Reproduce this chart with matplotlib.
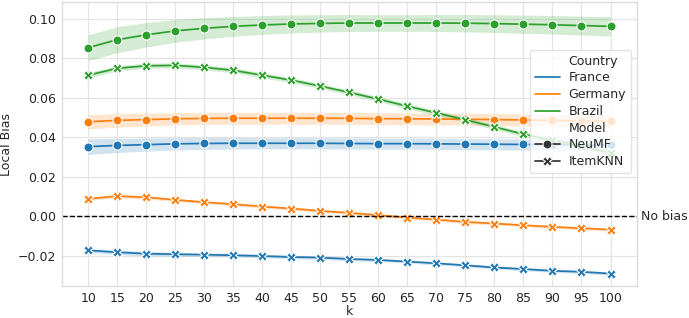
import numpy as np
import matplotlib
matplotlib.use("Agg")
import matplotlib.pyplot as plt
import seaborn as sns
from matplotlib.lines import Line2D

sns.set_theme(style="whitegrid")
plt.rcParams['font.family'] = ['DejaVu Sans']

k = [10, 15, 20, 25, 30, 35, 40, 45, 50, 55, 60, 65, 70, 75, 80, 85, 90, 95, 100]

countries = ["France", "Germany", "Brazil"]
colors = {"France": "#1f77b4", "Germany": "#ff7f0e", "Brazil": "#2ca02c"}

neumf = {
    "France": [0.0353, 0.0359, 0.0363, 0.0367, 0.0369, 0.0370, 0.0370, 0.0370, 0.0370, 0.0369,
               0.0368, 0.0368, 0.0367, 0.0366, 0.0365, 0.0364, 0.0363, 0.0362, 0.0361],
    "Germany": [0.0479, 0.0486, 0.0490, 0.0494, 0.0496, 0.0497, 0.0497, 0.0497, 0.0497, 0.0496,
                0.0495, 0.0494, 0.0493, 0.0492, 0.0490, 0.0488, 0.0486, 0.0484, 0.0481],
    "Brazil": [0.0855, 0.0895, 0.0920, 0.0940, 0.0953, 0.0963, 0.0970, 0.0975, 0.0978, 0.0980,
               0.0980, 0.0980, 0.0980, 0.0979, 0.0977, 0.0974, 0.0971, 0.0967, 0.0963],
}
neumf_err = {
    "France": [0.0040, 0.0036, 0.0033, 0.0031, 0.0030, 0.0029, 0.0028, 0.0028, 0.0028, 0.0028,
               0.0028, 0.0028, 0.0028, 0.0028, 0.0028, 0.0028, 0.0028, 0.0028, 0.0028],
    "Germany": [0.0036, 0.0034, 0.0032, 0.0031, 0.0030, 0.0030, 0.0030, 0.0030, 0.0030, 0.0030,
                0.0030, 0.0030, 0.0030, 0.0030, 0.0030, 0.0030, 0.0030, 0.0030, 0.0030],
    "Brazil": [0.0065, 0.0066, 0.0062, 0.0058, 0.0054, 0.0050, 0.0048, 0.0046, 0.0044, 0.0043,
               0.0042, 0.0042, 0.0043, 0.0044, 0.0045, 0.0046, 0.0047, 0.0048, 0.0049],
}
itemknn = {
    "France": [-0.0173, -0.0183, -0.0190, -0.0193, -0.0195, -0.0198, -0.0202, -0.0207, -0.0210, -0.0217,
               -0.0222, -0.0230, -0.0239, -0.0249, -0.0260, -0.0268, -0.0277, -0.0282, -0.0291],
    "Germany": [0.0088, 0.0102, 0.0096, 0.0083, 0.0071, 0.0061, 0.0049, 0.0039, 0.0027, 0.0017,
                0.0005, -0.0007, -0.0017, -0.0029, -0.0037, -0.0046, -0.0054, -0.0061, -0.0068],
    "Brazil": [0.0715, 0.0750, 0.0763, 0.0765, 0.0755, 0.0740, 0.0715, 0.0690, 0.0660, 0.0628,
               0.0594, 0.0558, 0.0524, 0.0489, 0.0453, 0.0416, 0.0385, 0.0355, 0.0320],
}
itemknn_err = {
    "France": [0.0010, 0.0012, 0.0011, 0.0010, 0.0009, 0.0009, 0.0009, 0.0009, 0.0009, 0.0009,
               0.0008, 0.0008, 0.0008, 0.0008, 0.0008, 0.0008, 0.0008, 0.0008, 0.0008],
    "Germany": [0.0008, 0.0009, 0.0009, 0.0008, 0.0008, 0.0008, 0.0008, 0.0008, 0.0008, 0.0008,
                0.0008, 0.0008, 0.0008, 0.0008, 0.0008, 0.0008, 0.0008, 0.0008, 0.0008],
    "Brazil": [0.0014, 0.0014, 0.0013, 0.0013, 0.0013, 0.0013, 0.0013, 0.0013, 0.0013, 0.0013,
               0.0013, 0.0013, 0.0013, 0.0013, 0.0013, 0.0013, 0.0013, 0.0013, 0.0013],
}

FS = 9
LW = 1.25
MS = 6.5

fig = plt.figure(figsize=(6.89, 3.18), dpi=100)
ax = fig.add_axes([0.09, 0.1, 0.834, 0.894])

for c in countries:
    col = colors[c]
    for vals, err, mk in [(neumf[c], neumf_err[c], "o"), (itemknn[c], itemknn_err[c], "X")]:
        v = np.array(vals)
        e = np.array(err)
        ax.fill_between(k, v - e, v + e, color=col, alpha=0.2, lw=0)
        ax.plot(k, v, color=col, lw=LW, marker=mk, ms=MS, mec="white", mew=0.8)

ax.axhline(0, color="black", ls="--", lw=1.0)
ax.text(1.007, 0, "No bias", transform=ax.get_yaxis_transform(), va="center", ha="left", fontsize=FS)

ax.set_xticks(k)
ax.set_xlim(5.5, 104.5)
ax.set_ylim(-0.0355, 0.1087)
ax.set_yticks([-0.02, 0.0, 0.02, 0.04, 0.06, 0.08, 0.10])
ax.set_yticklabels(["\u22120.02", "0.00", "0.02", "0.04", "0.06", "0.08", "0.10"])
ax.tick_params(labelsize=FS, length=0, pad=4.5)
ax.grid(True, color="#e4e4e4", lw=0.9)
for s in ax.spines.values():
    s.set_color("#dddddd")
    s.set_linewidth(1.0)
ax.set_xlabel("k", fontsize=FS)
ax.set_ylabel("Local Bias", fontsize=FS)
ax.xaxis.set_label_coords(0.501, -0.066)
ax.yaxis.set_label_coords(-0.086, 0.5)

blank = Line2D([], [], color="none")
handles = [blank] + [Line2D([], [], color=colors[c], lw=LW) for c in countries] + [blank,
           Line2D([], [], color="#333333", lw=LW, marker="o", ms=MS, mec="white", mew=0.8),
           Line2D([], [], color="#333333", lw=LW, marker="X", ms=MS, mec="white", mew=0.8)]
labels = ["Country"] + countries + ["Model", "NeuMF", "ItemKNN"]
ax.legend(handles, labels, loc="upper right", bbox_to_anchor=(0.99, 0.832), borderaxespad=0,
          fontsize=FS, framealpha=0.8, handlelength=2.0, handletextpad=0.7,
          borderpad=0.4, labelspacing=0.3, edgecolor="#dddddd")

fig.savefig("out.png", dpi=100)
